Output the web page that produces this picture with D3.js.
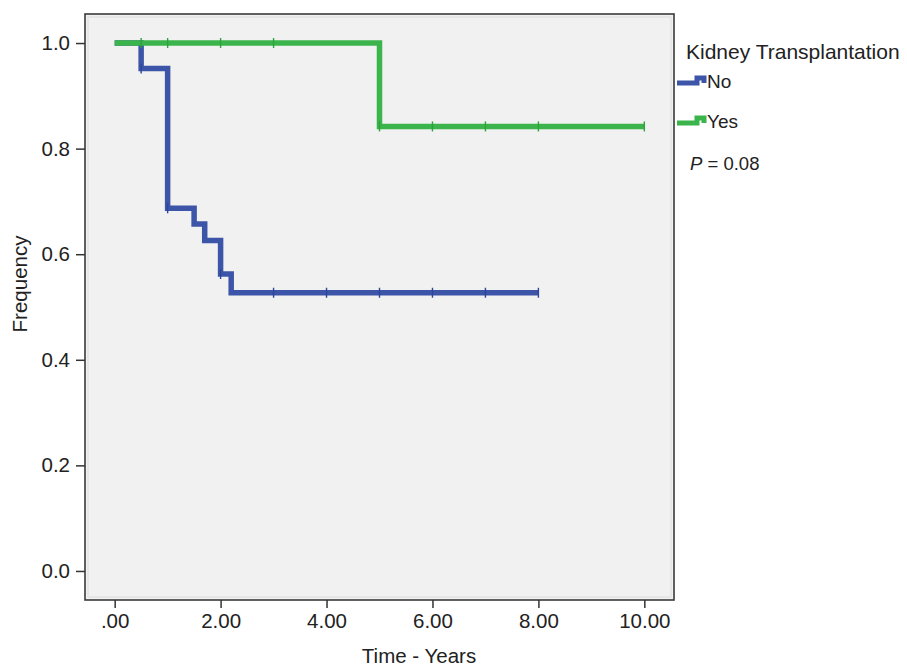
<!DOCTYPE html>
<html>
<head>
<meta charset="utf-8">
<script src="https://cdn.jsdelivr.net/npm/d3@7"></script>
<style>
  body { margin: 0; background: #fff; }
  text { font-family: "Liberation Sans", Arial, sans-serif; fill: #222; }
</style>
</head>
<body>
<div id="chart"></div>
<script>
// Kaplan-Meier estimates
var noTimes = [0, 0.5, 1.0, 1.5, 1.7, 2.0, 2.2, 8.0];
var noSurv = [1.0, 0.952, 0.687, 0.657, 0.626, 0.5625, 0.527, 0.527];
var noCensor = [0.5, 1, 2, 3, 4, 5, 6, 7, 8];

var yesTimes = [0, 5.0, 10.0];
var yesSurv = [1.0, 0.842, 0.842];
var yesCensor = [0.5, 1, 2, 3, 5, 6, 7, 8, 10];

var xTicks = [0, 2, 4, 6, 8, 10];
var xTickLabels = [".00", "2.00", "4.00", "6.00", "8.00", "10.00"];
var yTicks = [0, 0.2, 0.4, 0.6, 0.8, 1.0];

var groups = ["No", "Yes"];
var colors = ["#3d55a8", "#3bb44b"];
var censorColors = ["#2d4598", "#2aa43b"];

var width = 907, height = 666,
    frame = {left: 85, right: 674, top: 14, bottom: 600};

var svg = d3.select("#chart").append("svg")
  .attr("width", width)
  .attr("height", height);

var x = d3.scaleLinear().domain([-0.56, 10.56]).range([frame.left, frame.right]);
var y = d3.scaleLinear().domain([-0.055, 1.055]).range([frame.bottom, frame.top]);

// plot background and frame
svg.append("rect")
  .attr("x", frame.left).attr("y", frame.top)
  .attr("width", frame.right - frame.left).attr("height", frame.bottom - frame.top)
  .style("fill", "#f1f1f1");
svg.append("rect")
  .attr("x", frame.left + 3).attr("y", frame.top + 3)
  .attr("width", frame.right - frame.left - 6).attr("height", frame.bottom - frame.top - 6)
  .style("fill", "none").style("stroke", "#dcdcdc").style("stroke-width", 1);
svg.append("rect")
  .attr("x", frame.left).attr("y", frame.top)
  .attr("width", frame.right - frame.left).attr("height", frame.bottom - frame.top)
  .style("fill", "none").style("stroke", "#3a3a3a").style("stroke-width", 1.6);

// axes
var xAxis = d3.axisBottom(x).tickValues(xTicks).tickSize(8).tickSizeOuter(0)
  .tickFormat((d, i) => xTickLabels[i]);
var yAxis = d3.axisLeft(y).tickValues(yTicks).tickSize(9).tickSizeOuter(0)
  .tickFormat(d3.format(".1f"));

var gx = svg.append("g")
  .attr("transform", `translate(0,${frame.bottom})`)
  .call(xAxis);
gx.select(".domain").remove();
gx.selectAll("line").style("stroke", "#333").style("stroke-width", 1.5);
gx.selectAll("text").attr("dy", "0").attr("y", 28)
  .style("font-size", "20.5px").style("font-family", "Liberation Sans, Arial, sans-serif").style("fill", "#222");

var gy = svg.append("g")
  .attr("transform", `translate(${frame.left},0)`)
  .call(yAxis);
gy.select(".domain").remove();
gy.selectAll("line").style("stroke", "#333").style("stroke-width", 1.5);
gy.selectAll("text").attr("x", -15)
  .style("font-size", "20.5px").style("font-family", "Liberation Sans, Arial, sans-serif").style("fill", "#222");

// axis titles
svg.append("text")
  .attr("text-anchor", "middle")
  .attr("transform", "translate(419,663)")
  .style("font-size", "20.5px")
  .text("Time - Years");

svg.append("text")
  .attr("text-anchor", "middle")
  .attr("transform", "translate(27,284)rotate(-90)")
  .style("font-size", "20.5px")
  .text("Frequency");

// survival curves
var line = d3.line()
  .x(d => x(d[0]))
  .y(d => y(d[1]))
  .curve(d3.curveStepAfter);

var series = [
  {times: noTimes, surv: noSurv, censor: noCensor},
  {times: yesTimes, surv: yesSurv, censor: yesCensor}
];

// blue first, green sits on top where they overlap
series.forEach(function (s, k) {
  var pts = s.times.map((t, i) => [t, s.surv[i]]);
  svg.append("path")
    .datum(pts)
    .attr("d", line)
    .style("fill", "none")
    .style("stroke", colors[k])
    .style("stroke-width", 5.5)
    .style("stroke-linejoin", "miter");

  // censoring marks: value of the step function at time t
  var survAt = t => {
    var v = s.surv[0];
    s.times.forEach((tt, i) => { if (tt <= t) v = s.surv[i]; });
    return v;
  };
  svg.selectAll(".censor" + k)
    .data(s.censor)
    .enter().append("line")
    .attr("class", "censor" + k)
    .attr("x1", d => x(d)).attr("x2", d => x(d))
    .attr("y1", d => y(survAt(d)) - 5)
    .attr("y2", d => y(survAt(d)) + 5)
    .style("stroke", censorColors[k])
    .style("stroke-width", 1.4);
});

// legend
svg.append("text")
  .attr("x", 686).attr("y", 59)
  .style("font-size", "21px")
  .text("Kidney Transplantation");

var legend = svg.selectAll(".legend")
  .data(groups)
  .enter().append("g")
  .attr("class", "legend")
  .attr("transform", (d, i) => `translate(0,${81 + i * 40})`);

legend.append("path")
  .attr("d", "M677,2 H697 V-3 H704 V2")
  .style("fill", "none")
  .style("stroke", (d, i) => colors[i])
  .style("stroke-width", 5);

legend.append("text")
  .attr("x", 707).attr("y", 7)
  .style("font-size", "19px")
  .text(d => d);

var pText = svg.append("text")
  .attr("x", 690).attr("y", 170)
  .style("font-size", "18.5px");
pText.append("tspan").style("font-style", "italic").text("P");
pText.append("tspan").text(" = 0.08");
</script>
</body>
</html>
